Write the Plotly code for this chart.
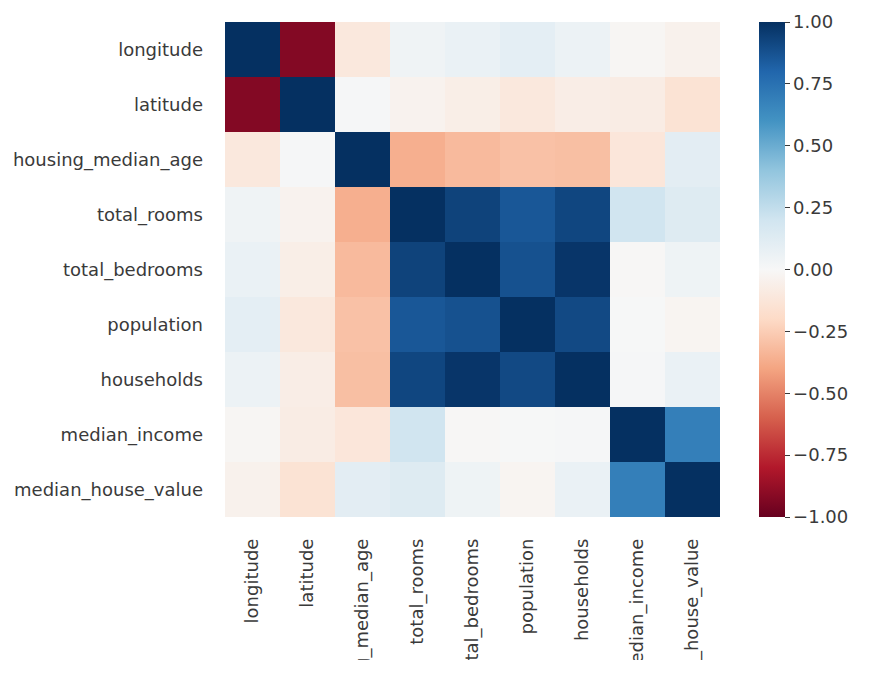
import plotly.graph_objects as go

labels = ["longitude", "latitude", "housing_median_age", "total_rooms", "total_bedrooms",
          "population", "households", "median_income", "median_house_value"]

corr = [
    [1.000000, -0.924664, -0.108197, 0.044568, 0.069608, 0.099773, 0.055310, -0.015176, -0.045967],
    [-0.924664, 1.000000, 0.011173, -0.036100, -0.066983, -0.108785, -0.071035, -0.079809, -0.144160],
    [-0.108197, 0.011173, 1.000000, -0.361262, -0.320451, -0.296244, -0.302916, -0.119034, 0.105623],
    [0.044568, -0.036100, -0.361262, 1.000000, 0.930380, 0.857126, 0.918484, 0.198050, 0.134153],
    [0.069608, -0.066983, -0.320451, 0.930380, 1.000000, 0.877747, 0.979728, -0.007723, 0.049686],
    [0.099773, -0.108785, -0.296244, 0.857126, 0.877747, 1.000000, 0.907222, 0.004834, -0.024650],
    [0.055310, -0.071035, -0.302916, 0.918484, 0.979728, 0.907222, 1.000000, 0.013033, 0.065843],
    [-0.015176, -0.079809, -0.119034, 0.198050, -0.007723, 0.004834, 0.013033, 1.000000, 0.688075],
    [-0.045967, -0.144160, 0.105623, 0.134153, 0.049686, -0.024650, 0.065843, 0.688075, 1.000000],
]

cbar_ticks = [-1.0, -0.75, -0.5, -0.25, 0.0, 0.25, 0.5, 0.75, 1.0]
cbar_text = ["\u22121.00", "\u22120.75", "\u22120.50", "\u22120.25", "0.00", "0.25", "0.50", "0.75", "1.00"]

rdbu = ["#67001f", "#b2182b", "#d6604d", "#f4a582", "#fddbc7", "#f7f7f7",
        "#d1e5f0", "#92c5de", "#4393c3", "#2166ac", "#053061"]
cs = [[i / (len(rdbu) - 1), c] for i, c in enumerate(rdbu)]

txt = "#3a3a3a"
fs = 18
fig = go.Figure(go.Heatmap(
    z=corr, x=labels, y=labels, zmin=-1, zmax=1, colorscale=cs, xgap=0, ygap=0,
    colorbar=dict(
        x=(759 - 225) / 495, xanchor="left", y=0.5, yanchor="middle",
        len=495, lenmode="pixels", thickness=26, outlinewidth=0,
        xpad=0, ypad=0,
        tickvals=cbar_ticks, ticktext=cbar_text, ticks="outside", ticklen=5,
        tickcolor=txt, tickfont=dict(size=fs, color=txt, family="DejaVu Sans"),
    ),
))

fig.update_layout(
    width=873, height=675,
    margin=dict(l=225, r=153, t=22, b=158),
    paper_bgcolor="white", plot_bgcolor="white",
    font=dict(family="DejaVu Sans", size=fs, color=txt),
    xaxis=dict(tickangle=-90, ticks="", showgrid=False, zeroline=False,
               automargin=False, ticklabelstandoff=17, constrain="domain"),
    yaxis=dict(autorange="reversed", ticks="", showgrid=False, zeroline=False,
               automargin=False, ticklabelstandoff=21),
    shapes=[dict(type="rect", xref="paper", yref="paper", x0=-0.5, x1=1.4,
                 y0=-(660 - 517) / 495, y1=-(700 - 517) / 495,
                 fillcolor="white", line=dict(width=0), layer="above")],
)

fig.write_html("out.html")
